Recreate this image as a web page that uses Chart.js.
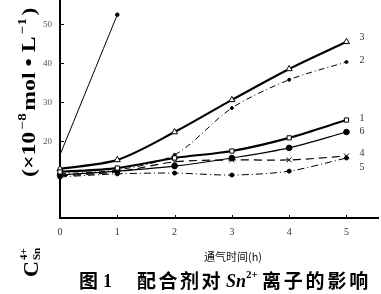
<!DOCTYPE html>
<html>
<head>
<meta charset="utf-8">
<script src="https://cdn.jsdelivr.net/npm/chart.js@4.4.1/dist/chart.umd.min.js"></script>
<style>
html,body{margin:0;padding:0;background:#fff;}
#wrap{width:381px;height:294px;}
</style>
</head>
<body>
<div id="wrap"><canvas id="c" width="381" height="294"></canvas></div>
<script>
// Data (hours of aeration vs Sn4+ conc, x10^-8 mol/L)
const hours = [0, 1, 2, 3, 4, 5];
const yTicks = [20, 30, 40, 50];
const s1 = [11.9, 12.9, 15.5, 17.3, 20.7, 25.3];
const s2 = [11.4, 12.4, 16.3, 28.4, 35.7, 40.3];
const s3 = [12.7, 15.0, 22.2, 30.5, 38.5, 45.5];
const s4 = [10.9, 11.9, 14.5, 15.0, 15.0, 16.0];
const s5 = [10.6, 11.4, 11.6, 11.1, 12.1, 15.5];
const s6 = [11.1, 12.1, 13.4, 15.5, 18.1, 22.2];
const s7 = [16.3, 52.5, null, null, null, null];
const curveLabels = ['1', '2', '3', '4', '5', '6', ''];

function pts(vals){
  return hours.map((h,i)=>({x:h, y:vals[i]})).filter(p=>p.y!==null);
}

// label offsets next to the last point (style only)
const labelDy = [-2, -2, -4, -3, 9, -1, 0];

const serif = '"Liberation Serif","DejaVu Serif",serif';
const cjk = '"Noto Sans CJK SC",sans-serif';

const datasets = [
  {data:pts(s1), borderWidth:2.2, pointStyle:'rect', pointRadius:3, pointBackgroundColor:'#fff'},
  {data:pts(s2), borderWidth:1, borderDash:[6,3,1,3], pointStyle:'circle', pointRadius:1.5, pointBackgroundColor:'#000'},
  {data:pts(s3), borderWidth:2.2, pointStyle:'triangle', pointRadius:3.5, pointBackgroundColor:'#fff'},
  {data:pts(s4), borderWidth:1.2, borderDash:[8,5], pointStyle:'crossRot', pointRadius:3.5, pointBackgroundColor:'#000'},
  {data:pts(s5), borderWidth:1, borderDash:[7,3,1,3], pointStyle:'circle', pointRadius:2, pointBackgroundColor:'#000'},
  {data:pts(s6), borderWidth:1.2, pointStyle:'circle', pointRadius:2.8, pointBackgroundColor:'#000'},
  {data:pts(s7), borderWidth:1, pointStyle:'circle', pointRadius:[0,1.8], pointBackgroundColor:'#000'}
].map(d=>Object.assign({borderColor:'#000', pointBorderColor:'#000', pointBorderWidth:1, showLine:true, tension:0.3, clip:false}, d));

// draw a string char by char with a fixed advance
function spaced(ctx, str, x, y, step){
  for(const ch of str){ ctx.fillText(ch, x, y); x += step; }
}

const decor = {
  id:'decor',
  afterDatasetsDraw(chart){
    const ctx = chart.ctx;
    const xs = chart.scales.x, ys = chart.scales.y;
    ctx.save();
    // inward ticks + y labels
    ctx.strokeStyle = '#000'; ctx.lineWidth = 1;
    ctx.fillStyle = '#555';
    ctx.font = '9px ' + serif;
    ctx.textAlign = 'right'; ctx.textBaseline = 'middle';
    yTicks.forEach(v=>{
      const py = Math.round(ys.getPixelForValue(v))+0.5;
      ctx.beginPath(); ctx.moveTo(xs.left, py); ctx.lineTo(xs.left+4, py); ctx.stroke();
      ctx.fillText(String(v), xs.left-8, py);
    });
    hours.forEach(h=>{
      const px = Math.round(xs.getPixelForValue(h))+0.5;
      ctx.beginPath(); ctx.moveTo(px, ys.bottom); ctx.lineTo(px, ys.bottom-3); ctx.stroke();
    });
    // curve labels
    ctx.fillStyle = '#333';
    ctx.font = '10px ' + serif;
    ctx.textAlign = 'left';
    chart.data.datasets.forEach((ds,i)=>{
      if(!curveLabels[i]) return;
      const last = ds.data[ds.data.length-1];
      ctx.fillText(curveLabels[i], xs.getPixelForValue(last.x)+13, ys.getPixelForValue(last.y)+labelDy[i]);
    });
    // x title
    ctx.fillStyle = '#111';
    ctx.font = '11px ' + cjk;
    ctx.textAlign = 'center';
    ctx.fillText('通气时间(h)', 233, 257);
    // caption
    ctx.fillStyle = '#000';
    ctx.textAlign = 'left';
    ctx.font = 'bold 19px ' + cjk;
    ctx.fillText('图', 79, 281);
    ctx.font = 'bold 18px ' + serif;
    ctx.fillText('1', 103, 282);
    ctx.font = 'bold 19px ' + cjk;
    spaced(ctx, '配合剂对', 137, 281, 21.5);
    ctx.font = 'italic bold 18px ' + serif;
    ctx.fillText('Sn', 226, 282);
    ctx.font = 'bold 11px ' + serif;
    ctx.fillText('2+', 246, 275);
    ctx.font = 'bold 19px ' + cjk;
    spaced(ctx, '离子的影响', 262, 281, 21.8);
    // y title, rotated: frame x = -screenY, frame y = screenX-30
    ctx.translate(30, 0);
    ctx.rotate(-Math.PI/2);
    ctx.textBaseline = 'middle';
    ctx.font = 'bold 22px ' + serif;
    ctx.fillText('C', -277, 2);
    ctx.font = 'bold 11px ' + serif;
    ctx.fillText('4+', -260, -6);
    ctx.fillText('Sn', -260, 7);
    const parts = [
      ['(×10', 'bold 19px '+serif, 0],
      ['−8', 'bold 12px '+serif, -7],
      ['mol • L', 'bold 19px '+serif, 0],
      ['−1', 'bold 12px '+serif, -7],
      [')', 'bold 19px '+serif, 0]
    ];
    let total = 0;
    parts.forEach(p=>{ ctx.font = p[1]; total += ctx.measureText(p[0]).width + 2; });
    const start = -177, target = 172;
    ctx.translate(start, 0);
    ctx.scale(target/total, 1);
    let x = 0;
    parts.forEach(p=>{
      ctx.font = p[1];
      ctx.fillText(p[0], x, p[2]);
      x += ctx.measureText(p[0]).width + 2;
    });
    ctx.restore();
  }
};

new Chart(document.getElementById('c'), {
  type:'scatter',
  data:{datasets},
  options:{
    responsive:false,
    animation:false,
    layout:{autoPadding:false, padding:{left:0, right:3, top:0, bottom:0}},
    plugins:{legend:{display:false}, tooltip:{enabled:false}},
    scales:{
      x:{
        type:'linear', min:0, max:5.55,
        afterBuildTicks(s){ s.ticks = hours.map(v=>({value:v})); },
        afterFit(s){ s.height = 76; },
        grid:{display:false, drawTicks:false},
        border:{display:true, color:'#000', width:2},
        ticks:{color:'#333', padding:8, font:{family:serif, size:10}}
      },
      y:{
        type:'linear', min:0, max:56.3,
        afterBuildTicks(s){ s.ticks = yTicks.map(v=>({value:v})); },
        afterFit(s){ s.width = 60; },
        grid:{display:false, drawTicks:false},
        border:{display:true, color:'#000', width:2},
        ticks:{display:false}
      }
    }
  },
  plugins:[decor]
});
</script>
</body>
</html>
